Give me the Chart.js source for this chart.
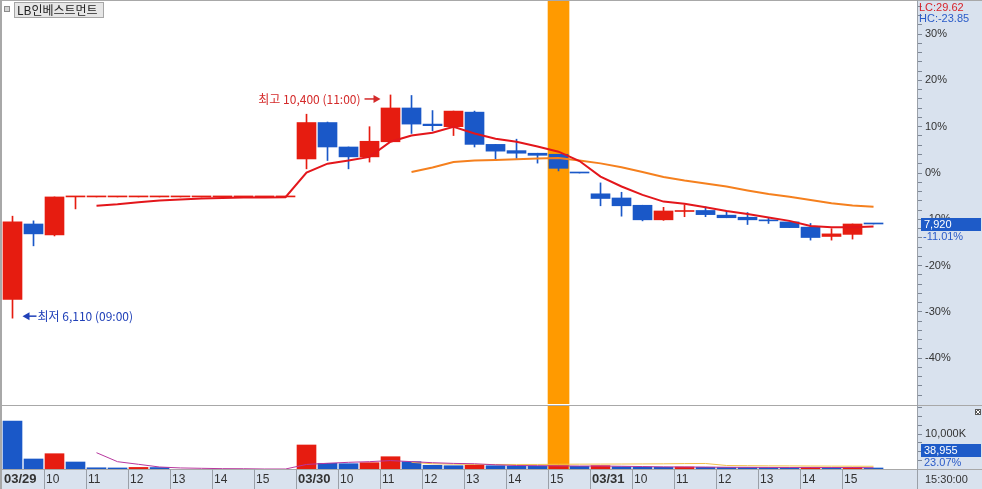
<!DOCTYPE html>
<html><head><meta charset="utf-8">
<script src="https://cdn.jsdelivr.net/npm/chart.js@4"></script>
<style>
html,body{margin:0;padding:0;background:#fff;overflow:hidden}
#wrap{position:relative;width:982px;height:489px;background:#fff}
#cp{position:absolute;left:0;top:0}
#cv{position:absolute;left:0;top:405px}
</style></head><body>
<div id="wrap"><canvas id="cp" width="982" height="405"></canvas><canvas id="cv" width="982" height="84"></canvas></div>
<script>
// ---------------- data ----------------
const stockName = 'LB인베스트먼트';
const basePrice = 8900;
const sessionTimes = ['09:00','09:30','10:00','10:30','11:00','11:30','12:00','12:30','13:00','13:30','14:00','14:30','15:00','15:30'];
const xTickSlots = [0,2,4,6,8,10,12,14,16,18,20,22,24,26,28,30,32,34,36,38,40];
const xTickLabels = ['03/29','10','11','12','13','14','15','03/30','10','11','12','13','14','15','03/31','10','11','12','13','14','15'];

const opens  = [6470,7920,7710,8440,8440,8440,8440,8440,8440,8440,8440,8440,8440,8440,
                9170,9870,9400,9210,9500,10150,9840,9790,10070,9450,9330,9280,9260,8910,
                8500,8420,8280,8000,8160,8180,8090,8050,7990,7960,7860,7680,7720,7930];
const highs  = [8070,7980,8440,8440,8440,8440,8440,8440,8440,8440,8440,8440,8440,8440,
                10030,9880,9400,9790,10400,10390,10100,10090,10090,9450,9550,9280,9260,8910,
                8710,8530,8280,8240,8290,8250,8170,8140,8030,7960,7930,7830,7920,7930];
const lows   = [6110,7500,7690,8210,8440,8440,8440,8440,8440,8440,8440,8440,8440,8440,
                8980,9140,8980,9110,9500,9660,9710,9620,9400,9140,9180,9090,8940,8900,
                8270,8070,7980,7990,8060,8060,8040,7910,7930,7850,7610,7610,7630,7920];
const closes = [7960,7730,8440,8440,8440,8440,8440,8440,8440,8440,8440,8440,8440,8440,
                9870,9400,9210,9510,10150,9840,9810,10090,9450,9320,9280,9240,8990,8900,
                8410,8270,8000,8170,8170,8100,8040,8000,7980,7850,7660,7730,7920,7920];
const volumes = [13710000,2860000,4370000,2000000,350000,300000,450000,420000,0,0,0,0,0,0,
                 6860000,1630000,1510000,1800000,3510000,2090000,1060000,940000,1060000,940000,860000,830000,880000,770000,
                 940000,660000,570000,500000,570000,490000,450000,430000,400000,370000,500000,400000,480000,38955];

const priceMA5  = [null,null,null,null,8270,8300,8340,8370,8390,8410,8420,8430,8430,8435,
                   8910,9080,9140,9210,9500,9620,9675,9790,9660,9560,9500,9410,9310,9130,
                   8830,8640,8480,8350,8310,8240,8170,8110,8045,7980,7880,7855,7855,7870];
const priceMA20 = [null,null,null,null,null,null,null,null,null,null,null,null,null,null,
                   null,null,null,null,null,8920,9005,9110,9140,9150,9165,9180,9190,9140,
                   9085,9010,8920,8825,8755,8700,8640,8565,8495,8445,8380,8320,8275,8250];
const volMA5  = [null,null,null,null,4660000,2090000,1340000,570000,300000,200000,100000,80000,0,0,
                 1300000,1630000,1910000,2100000,2400000,2100000,1800000,1600000,1500000,1200000,1000000,950000,900000,850000,
                 850000,780000,700000,620000,580000,550000,500000,480000,450000,430000,430000,420000,430000,350000];
const volMA20 = [null,null,null,null,null,null,null,null,null,null,null,null,null,null,
                 null,null,null,null,null,1900000,1500000,1400000,1300000,1300000,1300000,1300000,1350000,1380000,
                 1400000,1420000,1450000,1480000,1550000,1580000,1000000,950000,900000,880000,850000,820000,800000,780000];

const highlightSlots = [26];
const pctTicks = [36,34,32,30,28,26,24,22,20,18,16,14,12,10,8,6,4,2,0,-2,-4,-6,-8,-10,-12,-14,-16,-18,-20,
                  -22,-24,-26,-28,-30,-32,-34,-36,-38,-40,-42,-44,-46,-48];
const volTicks = [2500000,5000000,7500000,10000000,12500000,15000000,17500000];
const volLabelTick = 10000000;
const volChangeText = '23.07%';
const lastTimeText = '15:30:00';

// ---------------- layout / style ----------------
const priceMin = 4460, priceMax = 12206;
const volMax = 18000000;
const xMin = -0.5, xMax = 43.07;
const RED = '#E61C10', BLUE = '#1A58C8';
const PANEL = '#D9E2EE', GRAY = '#9AA0A8';
const FONT_UI = "'Liberation Sans', Arial, sans-serif";
const FONT_KR = "'Noto Sans CJK KR', 'Noto Sans', sans-serif";
const fmt = n => n.toLocaleString('en-US');
const candleColor = i => closes[i] >= opens[i] ? RED : BLUE;
const volColor = i => (i > 0 && volumes[i] > volumes[i - 1]) ? RED : BLUE;
const pts = arr => arr.map((v, i) => ({x: i, y: v})).filter(p => p.y !== null);

const common = {
  responsive: false, animation: false, devicePixelRatio: 1, events: [],
  plugins: {legend: {display: false}, tooltip: {enabled: false}}
};

// ---------------- price chart ----------------
const pricePanel = {
  id: 'pricePanel',
  beforeDraw(chart) {
    const {ctx, chartArea: a, width, height} = chart;
    ctx.save();
    ctx.fillStyle = '#fff'; ctx.fillRect(0, 0, width, height);
    ctx.fillStyle = PANEL; ctx.fillRect(a.right, 0, width - a.right, height);
    ctx.restore();
  },
  afterDatasetsDraw(chart) {
    const {ctx, scales: {x, y}} = chart;
    ctx.save();
    ctx.font = '12px ' + FONT_KR;
    ctx.textBaseline = 'middle';
    // highest
    const hi = highs.indexOf(Math.max(...highs));
    let px = x.getPixelForValue(hi), py = y.getPixelForValue(highs[hi]) + 4;
    ctx.fillStyle = '#D42A2A'; ctx.strokeStyle = '#D42A2A'; ctx.lineWidth = 1.5;
    ctx.textAlign = 'right';
    ctx.fillText('최고 ' + fmt(highs[hi]) + ' (' + sessionTimes[hi % 14] + ')', px - 30, py);
    ctx.beginPath(); ctx.moveTo(px - 26, py); ctx.lineTo(px - 15, py); ctx.stroke();
    ctx.beginPath(); ctx.moveTo(px - 10, py); ctx.lineTo(px - 17, py - 4); ctx.lineTo(px - 17, py + 4); ctx.closePath(); ctx.fill();
    // lowest
    const lo = lows.indexOf(Math.min(...lows));
    px = x.getPixelForValue(lo); py = y.getPixelForValue(lows[lo]) - 2;
    ctx.fillStyle = '#2040B8'; ctx.strokeStyle = '#2040B8';
    ctx.textAlign = 'left';
    ctx.beginPath(); ctx.moveTo(px + 16, py); ctx.lineTo(px + 24, py); ctx.stroke();
    ctx.beginPath(); ctx.moveTo(px + 10, py); ctx.lineTo(px + 17, py - 4); ctx.lineTo(px + 17, py + 4); ctx.closePath(); ctx.fill();
    ctx.fillText('최저 ' + fmt(lows[lo]) + ' (' + sessionTimes[lo % 14] + ')', px + 25, py);
    ctx.restore();
  },
  afterDraw(chart) {
    const {ctx, chartArea: a, width, height, scales: {y}} = chart;
    ctx.save();
    ctx.fillStyle = '#A8A8A8';
    ctx.fillRect(0, 0, 2, height);
    ctx.fillRect(0, 0, width, 1);
    ctx.fillStyle = GRAY; ctx.fillRect(Math.round(a.right), 0, 1, height);
    // title
    ctx.fillStyle = '#8C8C8C'; ctx.fillRect(4, 6, 6, 6);
    ctx.fillStyle = '#D4D4D4'; ctx.fillRect(5, 7, 4, 4);
    ctx.fillStyle = '#E6E6E6'; ctx.fillRect(14, 2, 90, 16);
    ctx.strokeStyle = '#A6A6A6'; ctx.lineWidth = 1; ctx.strokeRect(14.5, 2.5, 89, 15);
    ctx.fillStyle = '#222'; ctx.font = '12px ' + FONT_KR; ctx.textBaseline = 'middle'; ctx.textAlign = 'left';
    ctx.fillText(stockName, 17, 10.5);
    // LC / HC
    const last = closes[closes.length - 1];
    const lc = ((last / Math.min(...lows) - 1) * 100).toFixed(2);
    const hc = ((last / Math.max(...highs) - 1) * 100).toFixed(2);
    ctx.font = '11px ' + FONT_UI;
    ctx.fillStyle = '#D8232A'; ctx.fillText('LC:' + lc, 919, 7.5);
    ctx.fillStyle = '#2A5BC8'; ctx.fillText('HC:' + hc, 919, 19);
    // current price box
    const yp = Math.round(y.getPixelForValue(last));
    ctx.fillStyle = '#1E5BC8'; ctx.fillRect(921, yp - 6, width - 922, 13);
    ctx.fillStyle = '#fff'; ctx.font = '11px ' + FONT_UI; ctx.fillText(fmt(last), 924, yp + 0.5);
    ctx.fillStyle = '#2A5BC8';
    ctx.fillText(((last / basePrice - 1) * 100).toFixed(2) + '%', 923, yp + 13);
    ctx.restore();
  }
};

new Chart(document.getElementById('cp'), {
  type: 'bar',
  data: {
    datasets: [
      {type: 'line', data: pts(priceMA5), borderColor: '#E3161B', borderWidth: 2, pointRadius: 0, tension: 0, yAxisID: 'y'},
      {type: 'line', data: pts(priceMA20), borderColor: '#F5801E', borderWidth: 2, pointRadius: 0, tension: 0, yAxisID: 'y'},
      {type: 'bar', data: opens.map((o, i) => ({x: i, y: [o, closes[i]]})), yAxisID: 'y',
       backgroundColor: c => candleColor(c.dataIndex), barThickness: 19, minBarLength: 1, grouped: false, borderWidth: 0},
      {type: 'bar', data: lows.map((l, i) => ({x: i, y: [l, highs[i]]})), yAxisID: 'y',
       backgroundColor: c => candleColor(c.dataIndex), barThickness: 1, grouped: false, borderWidth: 0},
      {type: 'bar', data: highlightSlots.map(i => ({x: i, y: 1})), yAxisID: 'yb',
       backgroundColor: '#FF9A00', barThickness: 21, grouped: false, borderWidth: 0}
    ]
  },
  options: Object.assign({}, common, {
    layout: {padding: {left: 2, top: 1, right: 0, bottom: 1}},
    scales: {
      x: {type: 'linear', display: false, min: xMin, max: xMax, offset: false},
      y: {type: 'linear', position: 'right', min: priceMin, max: priceMax,
          afterBuildTicks: s => { s.ticks = pctTicks.map(p => ({value: basePrice * (1 + p / 100)})); },
          afterFit: s => { s.width = 65; s.paddingTop = 0; s.paddingBottom = 0; },
          grid: {display: true, drawOnChartArea: false, drawTicks: true, tickLength: 5, tickColor: '#7E8896'},
          border: {display: false},
          ticks: {autoSkip: false, padding: 3, color: '#333', font: {family: FONT_UI, size: 11},
                  callback: v => { const p = Math.round((v / basePrice - 1) * 100); return p % 10 === 0 ? p + '%' : ''; }}},
      yb: {type: 'linear', display: false, min: 0, max: 1}
    }
  }),
  plugins: [pricePanel]
});

// ---------------- volume chart ----------------
const volPanel = {
  id: 'volPanel',
  beforeDraw(chart) {
    const {ctx, chartArea: a, width, height} = chart;
    ctx.save();
    ctx.fillStyle = '#fff'; ctx.fillRect(0, 0, width, height);
    ctx.fillStyle = PANEL;
    ctx.fillRect(a.right, 0, width - a.right, height);
    ctx.fillRect(0, a.bottom, width, height - a.bottom);
    ctx.fillStyle = '#A8A8A8'; ctx.fillRect(0, 0, width, 1);
    ctx.restore();
  },
  afterDraw(chart) {
    const {ctx, chartArea: a, width, height, scales: {x, y}} = chart;
    ctx.save();
    ctx.fillStyle = '#A8A8A8';
    ctx.fillRect(0, 0, 2, height);
    ctx.fillRect(0, Math.round(a.bottom), width, 1);
    ctx.fillStyle = GRAY;
    ctx.fillRect(Math.round(a.right), 0, 1, height);
    x.ticks.forEach(t => {
      const px = Math.round(x.getPixelForValue(t.value));
      if (px > 3) ctx.fillRect(px, a.bottom, 1, height - a.bottom);
    });
    ctx.textBaseline = 'middle'; ctx.textAlign = 'left';
    ctx.font = '11px ' + FONT_UI; ctx.fillStyle = '#333';
    ctx.fillText(lastTimeText, 925, (a.bottom + height) / 2 + 0.5);
    // close icon
    ctx.fillStyle = '#5A5A5A'; ctx.fillRect(975, 4, 6, 6);
    ctx.strokeStyle = '#fff'; ctx.lineWidth = 1;
    ctx.beginPath(); ctx.moveTo(976, 5); ctx.lineTo(980, 9); ctx.moveTo(980, 5); ctx.lineTo(976, 9); ctx.stroke();
    // last volume box
    const lastVol = volumes[volumes.length - 1];
    const yp = Math.round(Math.min(y.getPixelForValue(lastVol), a.bottom - 19));
    ctx.fillStyle = '#1E5BC8'; ctx.fillRect(921, yp - 6, width - 922, 13);
    ctx.fillStyle = '#fff'; ctx.fillText(fmt(lastVol), 924, yp + 0.5);
    ctx.fillStyle = '#2A5BC8'; ctx.fillText(volChangeText, 924, yp + 12.5);
    ctx.restore();
  }
};

new Chart(document.getElementById('cv'), {
  type: 'bar',
  data: {
    datasets: [
      {type: 'line', data: pts(volMA5), borderColor: '#B8379E', borderWidth: 1, pointRadius: 0, tension: 0, yAxisID: 'y'},
      {type: 'line', data: pts(volMA20), borderColor: '#F2C04A', borderWidth: 1, pointRadius: 0, tension: 0, yAxisID: 'y'},
      {type: 'bar', data: volumes.map((v, i) => ({x: i, y: v > 0 ? v : null})), yAxisID: 'y',
       backgroundColor: c => volColor(c.dataIndex), barThickness: 19, minBarLength: 1, grouped: false, borderWidth: 0},
      {type: 'bar', data: highlightSlots.map(i => ({x: i, y: 1})), yAxisID: 'yb',
       backgroundColor: '#FF9A00', barThickness: 21, grouped: false, borderWidth: 0}
    ]
  },
  options: Object.assign({}, common, {
    layout: {padding: {left: 2, top: 1, right: 0, bottom: 0}},
    scales: {
      x: {type: 'linear', position: 'bottom', min: xMin, max: xMax, offset: false,
          afterBuildTicks: s => { s.ticks = xTickSlots.map(k => ({value: k - 0.5})); },
          afterFit: s => { s.height = 20; s.paddingLeft = 0; s.paddingRight = 0; },
          grid: {display: false, drawTicks: false, tickLength: 0}, border: {display: false},
          ticks: {autoSkip: false, maxRotation: 0, minRotation: 0, align: 'start', labelOffset: 2, padding: 3, color: '#333',
                  font: c => (c.tick && String(c.tick.label).indexOf('/') >= 0)
                    ? {family: FONT_UI, size: 13, weight: 'bold'} : {family: FONT_UI, size: 12, weight: 'normal'},
                  callback: (v, i) => xTickLabels[i]}},
      y: {type: 'linear', position: 'right', min: 0, max: volMax,
          afterBuildTicks: s => { s.ticks = volTicks.map(v => ({value: v})); },
          afterFit: s => { s.width = 65; s.paddingTop = 0; s.paddingBottom = 0; },
          grid: {display: true, drawOnChartArea: false, drawTicks: true, tickLength: 5, tickColor: '#7E8896'},
          border: {display: false},
          ticks: {autoSkip: false, padding: 3, color: '#333', font: {family: FONT_UI, size: 11},
                  callback: v => v === volLabelTick ? fmt(v / 1000) + 'K' : ''}},
      yb: {type: 'linear', display: false, min: 0, max: 1}
    }
  }),
  plugins: [volPanel]
});
</script>
</body></html>
